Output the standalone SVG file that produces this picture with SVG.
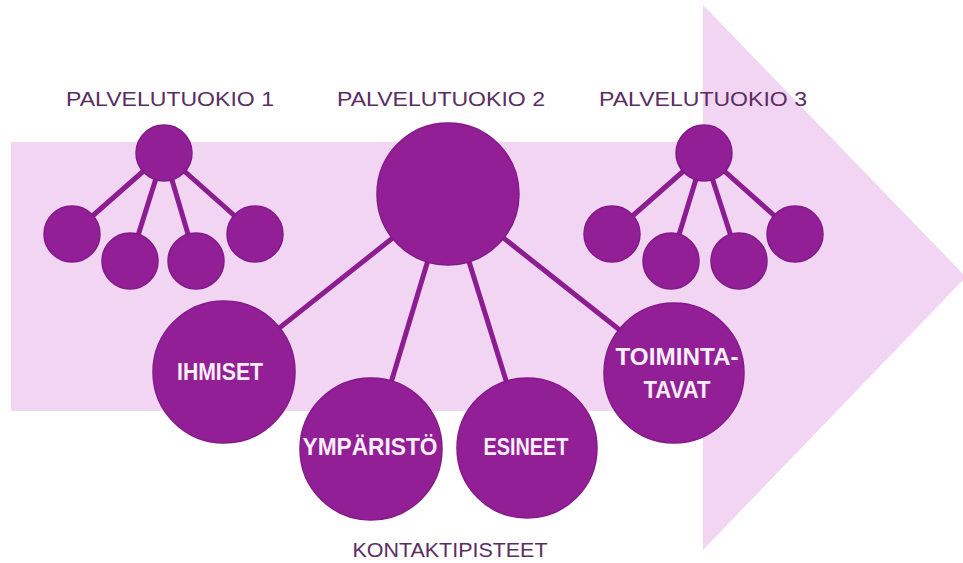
<svg xmlns="http://www.w3.org/2000/svg" width="963" height="563" viewBox="0 0 963 563">
<style>
.bg{fill:#f1d5f3}
.c{fill:#921f95;stroke:#84198a;stroke-width:1.5}
.ln{stroke:#8c1d90;stroke-width:5;fill:none}
.lbl{font-family:"Liberation Sans",Arial,sans-serif;font-size:21px;fill:#5a2e62;text-anchor:middle}
.t{font-family:"Liberation Sans",Arial,sans-serif;font-size:24px;font-weight:bold;fill:#f8eef8;text-anchor:middle}
</style>
<rect width="963" height="563" fill="#ffffff"/>
<g id="arrow">
<rect class="bg" x="11" y="142" width="694" height="269"/>
<polygon class="bg" points="703,5 966,277 703,550"/>
</g>
<g id="connectors">
<line class="ln" x1="164" y1="153" x2="72" y2="234"/>
<line class="ln" x1="164" y1="153" x2="130" y2="261"/>
<line class="ln" x1="164" y1="153" x2="196" y2="261"/>
<line class="ln" x1="164" y1="153" x2="255" y2="234"/>
<line class="ln" x1="704" y1="153" x2="612" y2="234"/>
<line class="ln" x1="704" y1="153" x2="671" y2="261"/>
<line class="ln" x1="704" y1="153" x2="739" y2="261"/>
<line class="ln" x1="704" y1="153" x2="795" y2="234"/>
<line class="ln" x1="448" y1="194" x2="224" y2="372"/>
<line class="ln" x1="448" y1="194" x2="371" y2="449"/>
<line class="ln" x1="448" y1="194" x2="527" y2="448"/>
<line class="ln" x1="448" y1="194" x2="674" y2="373"/>
</g>
<g id="palvelutuokio1">
<text class="lbl" x="170" y="106" textLength="208" lengthAdjust="spacingAndGlyphs">PALVELUTUOKIO 1</text>
<circle class="c" cx="164" cy="153" r="28"/>
<circle class="c" cx="72" cy="234" r="28"/>
<circle class="c" cx="130" cy="261" r="28"/>
<circle class="c" cx="196" cy="261" r="28"/>
<circle class="c" cx="255" cy="234" r="28"/>
</g>
<g id="palvelutuokio2">
<text class="lbl" x="441" y="106" textLength="208" lengthAdjust="spacingAndGlyphs">PALVELUTUOKIO 2</text>
<circle class="c" cx="448" cy="194" r="71"/>
</g>
<g id="palvelutuokio3">
<text class="lbl" x="703" y="106" textLength="208" lengthAdjust="spacingAndGlyphs">PALVELUTUOKIO 3</text>
<circle class="c" cx="704" cy="153" r="28"/>
<circle class="c" cx="612" cy="234" r="28"/>
<circle class="c" cx="671" cy="261" r="28"/>
<circle class="c" cx="739" cy="261" r="28"/>
<circle class="c" cx="795" cy="234" r="28"/>
</g>
<g id="ihmiset">
<circle class="c" cx="224" cy="372" r="71"/>
<text class="t" x="220" y="380" textLength="86" lengthAdjust="spacingAndGlyphs">IHMISET</text>
</g>
<g id="ymparisto">
<circle class="c" cx="371" cy="449" r="71"/>
<text class="t" x="370" y="455" textLength="135" lengthAdjust="spacingAndGlyphs">YMPÄRISTÖ</text>
</g>
<g id="esineet">
<circle class="c" cx="527" cy="448" r="70"/>
<text class="t" x="526" y="455" textLength="85" lengthAdjust="spacingAndGlyphs">ESINEET</text>
</g>
<g id="toimintatavat">
<circle class="c" cx="674" cy="373" r="70"/>
<text class="t" x="677" y="365" textLength="123" lengthAdjust="spacingAndGlyphs">TOIMINTA-</text>
<text class="t" x="677" y="398" textLength="67" lengthAdjust="spacingAndGlyphs">TAVAT</text>
</g>
<g id="kontaktipisteet">
<text class="lbl" x="450" y="557" textLength="195" lengthAdjust="spacingAndGlyphs">KONTAKTIPISTEET</text>
</g>
</svg>
